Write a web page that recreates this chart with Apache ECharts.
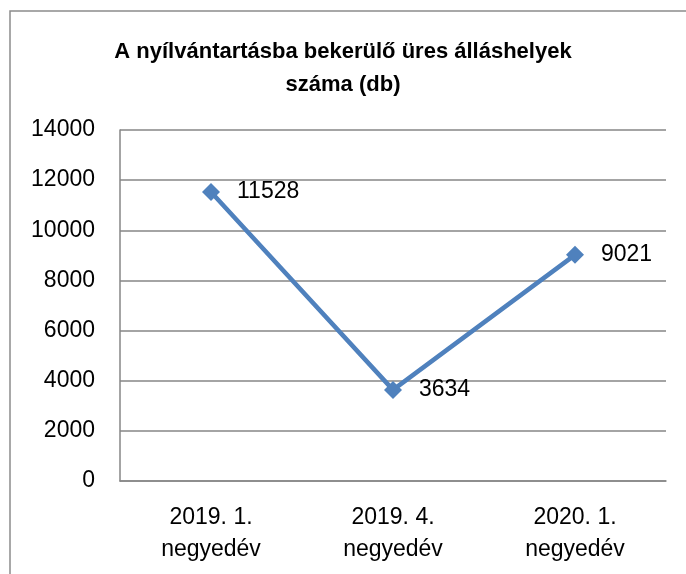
<!DOCTYPE html>
<html>
<head>
<meta charset="utf-8">
<script src="https://cdn.jsdelivr.net/npm/echarts@6/dist/echarts.min.js"></script>
<style>
  html, body { margin: 0; padding: 0; background: #fff; }
  #main { width: 686px; height: 574px; }
</style>
</head>
<body>
<div id="main"></div>
<script>
var categories = ['2019. 1.\nnegyedév', '2019. 4.\nnegyedév', '2020. 1.\nnegyedév'];
var values = [11528, 3634, 9021];
var yTicks = [0, 2000, 4000, 6000, 8000, 10000, 12000, 14000];

var myChart = echarts.init(document.getElementById('main'));
var font = 'Liberation Sans';
var option = {
  animation: false,
  title: {
    text: 'A nyílvántartásba bekerülő üres álláshelyek\nszáma (db)',
    left: 'center',
    top: 30,
    textStyle: {
      fontFamily: font,
      fontSize: 22,
      fontWeight: 'bold',
      color: '#000',
      lineHeight: 33
    }
  },
  graphic: [{
    type: 'rect',
    shape: { x: 10, y: 11, width: 700, height: 620 },
    style: { fill: 'none', stroke: '#8c8c8c', lineWidth: 1.5 },
    silent: true
  }],
  grid: { left: 120, right: 20, top: 130, bottom: 93 },
  xAxis: {
    type: 'category',
    data: categories,
    boundaryGap: true,
    axisLine: { lineStyle: { color: '#868686', width: 1.5 } },
    axisTick: { show: false },
    axisLabel: {
      color: '#000',
      fontFamily: font,
      fontSize: 23,
      lineHeight: 32,
      margin: 21
    }
  },
  yAxis: {
    type: 'value',
    min: yTicks[0],
    max: yTicks[yTicks.length - 1],
    interval: 2000,
    axisLine: { show: true, lineStyle: { color: '#868686', width: 1.5 } },
    axisTick: { show: false },
    splitLine: { lineStyle: { color: '#868686', width: 1.5 } },
    axisLabel: {
      color: '#000',
      fontFamily: font,
      fontSize: 23,
      margin: 25,
      formatter: function (v) { return String(v); }
    }
  },
  series: [{
    name: 'db',
    type: 'line',
    data: values,
    symbol: 'diamond',
    symbolSize: 18,
    lineStyle: { color: '#4F81BD', width: 4.5 },
    itemStyle: { color: '#4F81BD' },
    label: {
      show: true,
      position: 'right',
      distance: 17,
      color: '#000',
      fontFamily: font,
      fontSize: 23
    }
  }]
};
myChart.setOption(option);
</script>
</body>
</html>
